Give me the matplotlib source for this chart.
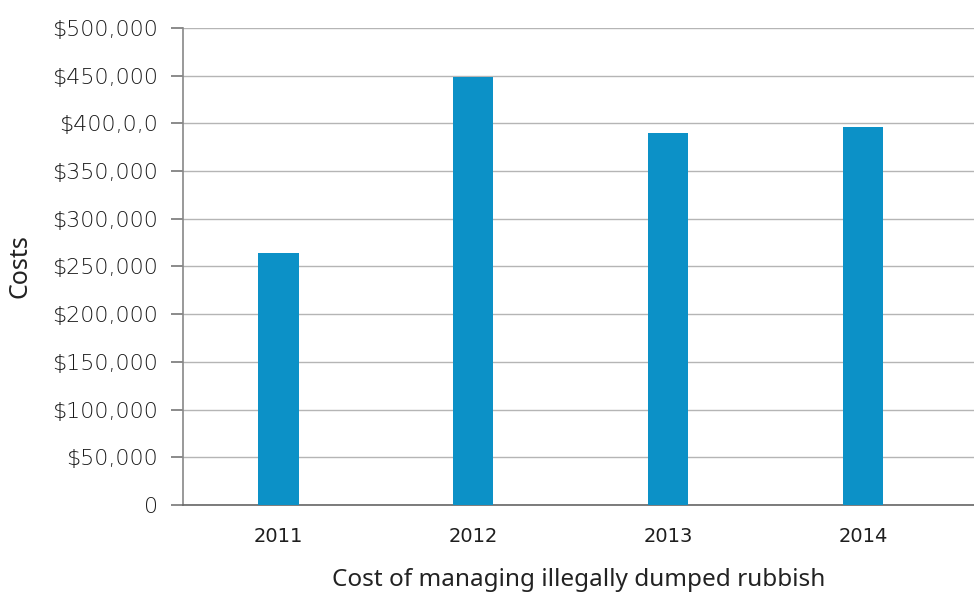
import matplotlib.pyplot as plt
import numpy as np

# Yearly cost of managing illegally dumped rubbish
years = ['2011', '2012', '2013', '2014']
costs = [264000, 449000, 390000, 396000]
ytick_values = [0, 50000, 100000, 150000, 200000, 250000, 300000, 350000, 400000, 450000, 500000]
ytick_labels = ['0', '$50,000', '$100,000', '$150,000', '$200,000', '$250,000',
                '$300,000', '$350,000', '$400,0,0', '$450,000', '$500,000']

bar_color = '#0C91C7'

fig = plt.figure(figsize=(9.74, 5.92), dpi=100)
ax = fig.add_axes([0.1879, 0.147, 0.8121, 0.8058])

x = np.arange(len(years))
ax.bar(x, costs, width=0.206, color=bar_color, zorder=3)

ax.set_xlim(-0.49, 3.57)
ax.set_ylim(0, 500000)

# horizontal grid
ax.set_yticks(ytick_values)
ax.set_yticklabels(ytick_labels, fontsize=16, color='#1a1a1a', family='DejaVu Sans',
                   fontweight='light')
ax.yaxis.grid(True, color='#b5b5b5', linewidth=1.0, zorder=0)
ax.set_axisbelow(True)
ax.tick_params(axis='y', direction='out', length=9, width=1.2, color='#777777', pad=9)

ax.set_xticks(x)
ax.set_xticklabels(years, fontsize=14, color='#1e1e1e', family='DejaVu Sans')
ax.tick_params(axis='x', length=0, pad=16)

for side in ['top', 'right']:
    ax.spines[side].set_visible(False)
ax.spines['left'].set_color('#888888')
ax.spines['left'].set_linewidth(1.2)
ax.spines['bottom'].set_color('#666666')
ax.spines['bottom'].set_linewidth(1.2)

ax.set_ylabel('Costs', fontsize=18, color='#222222', family='Noto Sans', labelpad=14)
ax.set_xlabel('Cost of managing illegally dumped rubbish', fontsize=17.5, color='#222222',
              family='Noto Sans', labelpad=16)

fig.savefig('out.png', dpi=100)
